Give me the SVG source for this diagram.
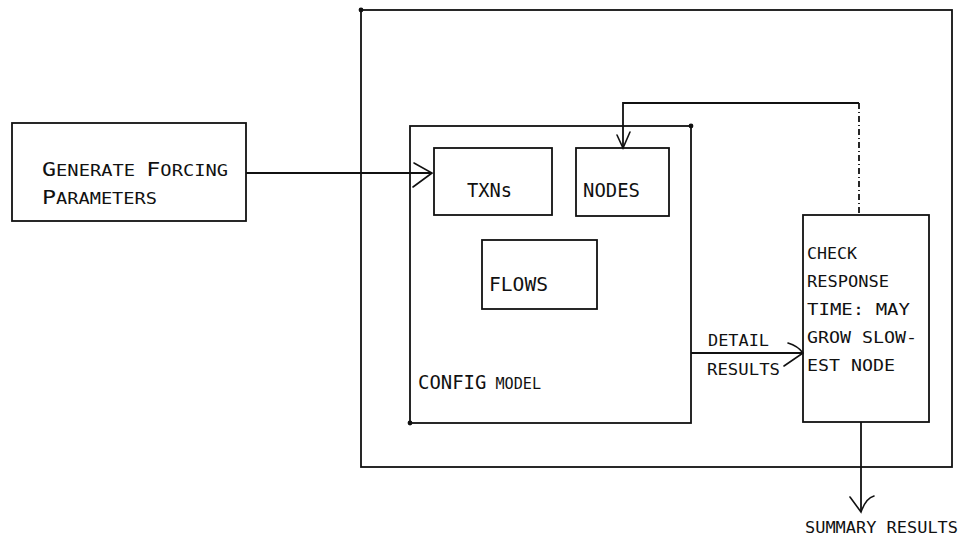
<svg xmlns="http://www.w3.org/2000/svg" width="973" height="543" viewBox="0 0 973 543">
<style>
.box{fill:none;stroke:#111;stroke-width:1.8}
.ln{fill:none;stroke:#111;stroke-width:1.8}
.ah{fill:none;stroke:#111;stroke-width:1.6;stroke-linecap:round}
.t{font-family:"DejaVu Sans Mono","Liberation Mono",monospace;fill:#111}
.s{font-family:"DejaVu Sans Mono","Liberation Mono",monospace;fill:#111;font-size:16px}
</style>
<rect width="973" height="543" fill="#fff"/>
<g id="outer">
<rect class="box" x="361" y="10" width="591" height="457"/>
<circle cx="361" cy="10" r="2.4" fill="#111"/>
</g>
<g id="generate">
<rect class="box" x="12" y="123" width="234" height="98"/>
<text class="t" x="42" y="176" font-size="16" textLength="186" lengthAdjust="spacingAndGlyphs"><tspan font-size="20">G</tspan>ENERATE <tspan font-size="20">F</tspan>ORCING</text>
<text class="t" x="42" y="204" font-size="16" textLength="115" lengthAdjust="spacingAndGlyphs"><tspan font-size="20">P</tspan>ARAMETERS</text>
</g>
<g id="config">
<rect class="box" x="410" y="126" width="281" height="297"/>
<circle cx="691" cy="126" r="2.4" fill="#111"/>
<circle cx="410" cy="423" r="2.4" fill="#111"/>
<text class="t" x="418" y="389" font-size="16" textLength="123" lengthAdjust="spacingAndGlyphs"><tspan font-size="20">CONFIG</tspan> MODEL</text>
</g>
<g id="txns">
<rect class="box" x="434" y="148" width="118" height="67"/>
<text class="t" x="467" y="197" font-size="20" textLength="45" lengthAdjust="spacingAndGlyphs">TXNs</text>
</g>
<g id="nodes">
<rect class="box" x="576" y="148" width="93" height="68"/>
<text class="t" x="583" y="197" font-size="20" textLength="57" lengthAdjust="spacingAndGlyphs">NODES</text>
</g>
<g id="flows">
<rect class="box" x="482" y="240" width="115" height="69"/>
<text class="t" x="489" y="291" font-size="20" textLength="59" lengthAdjust="spacingAndGlyphs">FLOWS</text>
</g>
<g id="check">
<rect class="box" x="803" y="215" width="126" height="207"/>
<text class="s" x="807" y="259" textLength="50" lengthAdjust="spacingAndGlyphs">CHECK</text>
<text class="s" x="807" y="287" textLength="82" lengthAdjust="spacingAndGlyphs">RESPONSE</text>
<text class="s" x="807" y="315" textLength="103" lengthAdjust="spacingAndGlyphs">TIME: MAY</text>
<text class="s" x="807" y="343" textLength="110" lengthAdjust="spacingAndGlyphs">GROW SLOW-</text>
<text class="s" x="807" y="371" textLength="88" lengthAdjust="spacingAndGlyphs">EST NODE</text>
</g>
<g id="connectors">
<line class="ln" x1="246" y1="173" x2="432" y2="173"/>
<path class="ah" d="M414,163 L432,173 L413,187"/>
<path class="ln" d="M623,148 V103 H859"/>
<line class="ln" x1="859" y1="103" x2="859" y2="215" stroke-dasharray="6,3,1,3"/>
<path class="ah" d="M617,135 L623,148 L630,132"/>
<line class="ln" x1="691" y1="353" x2="803" y2="353"/>
<path class="ah" d="M788,343 Q798,346 803,353 L784,366"/>
<text class="s" x="708" y="346" textLength="61" lengthAdjust="spacingAndGlyphs">DETAIL</text>
<text class="s" x="707" y="375" textLength="73" lengthAdjust="spacingAndGlyphs">RESULTS</text>
<line class="ln" x1="861" y1="422" x2="861" y2="512"/>
<path class="ah" d="M850,497 L861,512 Q866,498 874,496"/>
<text class="s" x="805" y="533" textLength="153" lengthAdjust="spacingAndGlyphs">SUMMARY RESULTS</text>
</g>
</svg>
